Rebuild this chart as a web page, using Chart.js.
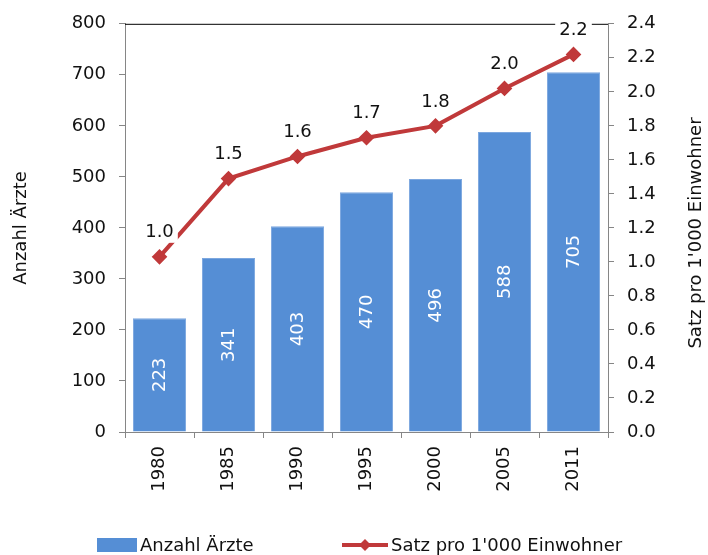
<!DOCTYPE html>
<html>
<head>
<meta charset="utf-8">
<script src="https://cdn.jsdelivr.net/npm/chart.js@4/dist/chart.umd.min.js"></script>
<style>
  body { margin: 0; background: #fff; }
</style>
</head>
<body>
<canvas id="chart" width="708" height="555"></canvas>
<script>
// DATOS
const jahre = ["1980", "1985", "1990", "1995", "2000", "2005", "2011"];
const anzahlAerzte = [223, 341, 403, 470, 496, 588, 705];
const satzPro1000 = [1.03, 1.49, 1.62, 1.73, 1.80, 2.02, 2.22];
const ticksLinks = [0, 100, 200, 300, 400, 500, 600, 700, 800];
const ticksRechts = [0, 0.2, 0.4, 0.6, 0.8, 1.0, 1.2, 1.4, 1.6, 1.8, 2.0, 2.2, 2.4];

const blau = "#558ED5";
const rot = "#C0393A";
const grau = "#868686";
const schrift = "'DejaVu Sans', Verdana, sans-serif";

// dibuja etiquetas, borde superior, titulos y leyenda
const extras = {
    id: "extras",
    beforeDatasetsDraw(chart) {
        const { ctx, chartArea } = chart;
        ctx.save();
        ctx.strokeStyle = "#000";
        ctx.lineWidth = 1;
        ctx.beginPath();
        ctx.moveTo(chartArea.left, chartArea.top + 0.5);
        ctx.lineTo(chartArea.right, chartArea.top + 0.5);
        ctx.stroke();
        ctx.restore();
    },
    afterDatasetsDraw(chart) {
        const { ctx } = chart;
        ctx.save();
        // barras
        const barMeta = chart.getDatasetMeta(1);
        ctx.font = "18px " + schrift;
        ctx.fillStyle = "#fff";
        ctx.textAlign = "center";
        ctx.textBaseline = "middle";
        barMeta.data.forEach((bar, i) => {
            ctx.save();
            ctx.translate(bar.x, (bar.y + bar.base) / 2);
            ctx.rotate(-Math.PI / 2);
            ctx.fillText(String(anzahlAerzte[i]), 0, 1);
            ctx.restore();
        });
        // linea
        const lineMeta = chart.getDatasetMeta(0);
        lineMeta.data.forEach((pt, i) => {
            const txt = satzPro1000[i].toFixed(1);
            const w = ctx.measureText(txt).width;
            const cy = pt.y - 24;
            ctx.fillStyle = "#fff";
            ctx.fillRect(pt.x - w / 2 - 4, cy - 10, w + 8, 20);
            ctx.fillStyle = "#111";
            ctx.fillText(txt, pt.x, cy);
        });
        ctx.restore();
    },
    afterDraw(chart) {
        const { ctx } = chart;
        ctx.save();
        ctx.font = "18px " + schrift;
        ctx.fillStyle = "#111";
        ctx.textAlign = "center";
        ctx.textBaseline = "middle";
        // titulos de ejes
        ctx.save();
        ctx.translate(21, 228);
        ctx.rotate(-Math.PI / 2);
        ctx.fillText("Anzahl Ärzte", 0, 0);
        ctx.restore();
        ctx.save();
        ctx.translate(696, 233);
        ctx.rotate(-Math.PI / 2);
        ctx.fillText("Satz pro 1'000 Einwohner", 0, 0);
        ctx.restore();
        // leyenda
        const ly = 545;
        ctx.fillStyle = blau;
        ctx.fillRect(97, ly - 7, 40, 14);
        ctx.fillStyle = "#111";
        ctx.textAlign = "left";
        ctx.fillText("Anzahl Ärzte", 140, ly + 1);
        ctx.strokeStyle = rot;
        ctx.lineWidth = 4;
        ctx.beginPath();
        ctx.moveTo(342, ly);
        ctx.lineTo(388, ly);
        ctx.stroke();
        ctx.fillStyle = rot;
        ctx.beginPath();
        ctx.moveTo(365, ly - 6);
        ctx.lineTo(371, ly);
        ctx.lineTo(365, ly + 6);
        ctx.lineTo(359, ly);
        ctx.closePath();
        ctx.fill();
        ctx.fillStyle = "#111";
        ctx.fillText("Satz pro 1'000 Einwohner", 391, ly + 1);
        ctx.restore();
    }
};

const tickFont = { family: schrift, size: 18 };

const config = {
    data: {
        labels: jahre,
        datasets: [
            {
                type: "line",
                label: "Satz pro 1'000 Einwohner",
                data: satzPro1000,
                yAxisID: "y1",
                borderColor: rot,
                backgroundColor: rot,
                borderWidth: 4,
                pointStyle: "rectRot",
                pointRadius: 5,
                pointBackgroundColor: rot,
                pointBorderColor: rot,
                tension: 0,
                order: 1
            },
            {
                type: "bar",
                label: "Anzahl Ärzte",
                data: anzahlAerzte,
                yAxisID: "y",
                backgroundColor: blau,
                borderColor: "#7CA7DF",
                borderWidth: 1,
                barPercentage: 0.77,
                categoryPercentage: 1.0,
                order: 2
            }
        ]
    },
    options: {
        responsive: false,
        animation: false,
        layout: { padding: { top: 19, left: 0, right: 0, bottom: 0 } },
        plugins: {
            legend: { display: false },
            tooltip: { enabled: false }
        },
        scales: {
            x: {
                grid: { offset: true, drawOnChartArea: false, tickLength: 6, color: grau },
                border: { color: grau, width: 1 },
                ticks: { minRotation: 90, maxRotation: 90, padding: 8, color: "#111", font: tickFont },
                afterFit: (scale) => { scale.height = 123; }
            },
            y: {
                position: "left",
                min: 0,
                max: 800,
                afterBuildTicks: (scale) => { scale.ticks = ticksLinks.map(v => ({ value: v })); },
                grid: { drawOnChartArea: false, tickLength: 6, color: grau },
                border: { color: grau, width: 1 },
                ticks: { padding: 13, color: "#111", font: tickFont },
                afterFit: (scale) => { scale.width = 125; }
            },
            y1: {
                position: "right",
                min: 0,
                max: 2.4,
                afterBuildTicks: (scale) => { scale.ticks = ticksRechts.map(v => ({ value: v })); },
                grid: { drawOnChartArea: false, tickLength: 6, color: grau },
                border: { color: grau, width: 1 },
                ticks: { padding: 13, color: "#111", font: tickFont, callback: (v) => Number(v).toFixed(1) },
                afterFit: (scale) => { scale.width = 100; }
            }
        }
    },
    plugins: [extras]
};

new Chart(document.getElementById("chart"), config);
</script>
</body>
</html>
